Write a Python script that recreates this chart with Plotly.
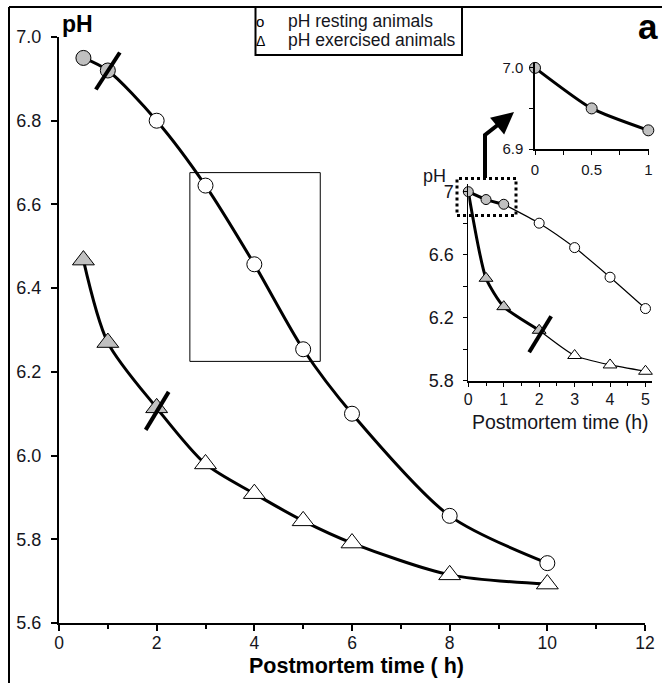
import plotly.graph_objects as go

# ---------------- data ----------------
time_main = [0.5, 1, 2, 3, 4, 5, 6, 8, 10]
ph_rest = [6.95, 6.92, 6.80, 6.645, 6.457, 6.254, 6.10, 5.856, 5.743]
ph_exer = [6.467, 6.27, 6.114, 5.98, 5.909, 5.844, 5.791, 5.715, 5.693]

time_inset = [0, 0.5, 1, 2, 3, 4, 5]
ph_rest_inset = [7.0, 6.95, 6.92, 6.80, 6.645, 6.457, 6.258]
ph_exer_inset = [7.0, 6.45, 6.27, 6.12, 5.96, 5.90, 5.86]

time_zoom = [0, 0.5, 1]
ph_zoom = [7.0, 6.95, 6.923]

main_yticks = [5.6, 5.8, 6.0, 6.2, 6.4, 6.6, 6.8, 7.0]
inset_yticks = [5.8, 6.0, 6.2, 6.4, 6.6, 6.8, 7.0]
inset_yticktext = ["5.8", "", "6.2", "", "6.6", "", "7"]
zoom_yticks = [6.9, 6.95, 7.0]
zoom_yticktext = ["6.9", "", "7.0"]
zoom_xticks = [0, 0.5, 1]
zoom_xticktext = ["0", "0.5", "1"]

legend_labels = ["pH resting animals", "pH exercised animals"]
xtitle_main = "Postmortem time ( h)"
xtitle_inset = "Postmortem time (h)"

# ---------------- style ----------------
W, H = 662, 683
GRAY = "#C0C0C0"
FONT = "Liberation Sans, Arial, sans-serif"
TXT = "#151520"


def px(x):
    return x / W


def py(y):
    return 1 - y / H


rest_fill = [GRAY if t <= 1 else "white" for t in time_main]
exer_fill = [GRAY if t <= 2 else "white" for t in time_main]
rest_fill_inset = [GRAY if t <= 1 else "white" for t in time_inset]
exer_fill_inset = [GRAY if t <= 2 else "white" for t in time_inset]

fig = go.Figure()

# main chart
fig.add_trace(go.Scatter(
    x=time_main, y=ph_rest, mode="lines+markers",
    line=dict(color="black", width=3, shape="spline", smoothing=0.8),
    marker=dict(symbol="circle", size=15, color=rest_fill, line=dict(color="black", width=1)),
    cliponaxis=False, showlegend=False, xaxis="x", yaxis="y"))
fig.add_trace(go.Scatter(
    x=time_main, y=ph_exer, mode="lines+markers",
    line=dict(color="black", width=3, shape="spline", smoothing=0.8),
    marker=dict(symbol="triangle-up", size=19, color=exer_fill, line=dict(color="black", width=1)),
    cliponaxis=False, showlegend=False, xaxis="x", yaxis="y"))

# inset chart
fig.add_trace(go.Scatter(
    x=time_inset[:3], y=ph_rest_inset[:3], mode="lines",
    line=dict(color="black", width=3, shape="spline", smoothing=0.6),
    cliponaxis=False, showlegend=False, xaxis="x2", yaxis="y2"))
fig.add_trace(go.Scatter(
    x=time_inset[2:], y=ph_rest_inset[2:], mode="lines",
    line=dict(color="black", width=1.2, shape="spline", smoothing=0.6),
    cliponaxis=False, showlegend=False, xaxis="x2", yaxis="y2"))
fig.add_trace(go.Scatter(
    x=time_inset[:4], y=ph_exer_inset[:4], mode="lines",
    line=dict(color="black", width=3, shape="spline", smoothing=0.6),
    cliponaxis=False, showlegend=False, xaxis="x2", yaxis="y2"))
fig.add_trace(go.Scatter(
    x=time_inset[3:], y=ph_exer_inset[3:], mode="lines",
    line=dict(color="black", width=1.2, shape="spline", smoothing=0.6),
    cliponaxis=False, showlegend=False, xaxis="x2", yaxis="y2"))
fig.add_trace(go.Scatter(
    x=time_inset[1:], y=ph_exer_inset[1:], mode="markers",
    marker=dict(symbol="triangle-up", size=12, color=exer_fill_inset[1:], line=dict(color="black", width=1)),
    cliponaxis=False, showlegend=False, xaxis="x2", yaxis="y2"))
fig.add_trace(go.Scatter(
    x=time_inset, y=ph_rest_inset, mode="markers",
    marker=dict(symbol="circle", size=10, color=rest_fill_inset, line=dict(color="black", width=1)),
    cliponaxis=False, showlegend=False, xaxis="x2", yaxis="y2"))

# zoomed inset
fig.add_trace(go.Scatter(
    x=time_zoom, y=ph_zoom, mode="lines+markers",
    line=dict(color="black", width=3, shape="spline", smoothing=0.6),
    marker=dict(symbol="circle", size=11, color=GRAY, line=dict(color="black", width=1)),
    cliponaxis=False, showlegend=False, xaxis="x3", yaxis="y3"))

axis_common = dict(showgrid=False, zeroline=False, showline=True, linecolor="black",
                   ticks="outside", tickcolor="black", fixedrange=True, automargin=False)

fig.update_layout(
    width=W, height=H, margin=dict(l=0, r=0, t=0, b=0, pad=0, autoexpand=False),
    paper_bgcolor="white", plot_bgcolor="rgba(0,0,0,0)",
    font=dict(family=FONT, color=TXT),
    xaxis=dict(domain=[px(59), px(645)], range=[0, 12], dtick=2, anchor="y",
               linewidth=2, ticklen=6, tickwidth=2, ticklabelstandoff=-3,
               tickfont=dict(size=17.5, color=TXT),
               minor=dict(dtick=1, ticks="outside", ticklen=4, tickwidth=2, tickcolor="black"),
               **axis_common),
    yaxis=dict(domain=[py(623), py(37)], range=[5.6, 7.0], tickvals=main_yticks, tickformat=".1f",
               anchor="x", linewidth=2, ticklen=6, tickwidth=2, ticklabelstandoff=6,
               tickfont=dict(size=18, color=TXT), **axis_common),
    xaxis2=dict(domain=[px(468.3), px(651.5)], range=[0, 5.17], dtick=1, anchor="y2",
                linewidth=2, ticklen=4, tickwidth=1, ticklabelstandoff=-1,
                tickfont=dict(size=16, color=TXT),
                minor=dict(dtick=0.5, ticks="outside", ticklen=3, tickwidth=1, tickcolor="black"),
                **axis_common),
    yaxis2=dict(domain=[py(380.7), py(183.8)], range=[5.8, 7.05], tickvals=inset_yticks,
                ticktext=inset_yticktext, anchor="x2", linewidth=1, ticklen=4, tickwidth=1,
                ticklabelstandoff=6, tickfont=dict(size=18, color=TXT), **axis_common),
    xaxis3=dict(domain=[px(535), px(649)], range=[0, 1.006], tickvals=zoom_xticks,
                ticktext=zoom_xticktext, anchor="y3", linewidth=2, ticklen=4, tickwidth=1,
                ticklabelstandoff=2, tickfont=dict(size=15, color=TXT, family="Liberation Sans Narrow, " + FONT),
                minor=dict(dtick=0.25, ticks="outside", ticklen=4, tickwidth=1, tickcolor="black"),
                **axis_common),
    yaxis3=dict(domain=[py(149), py(63)], range=[6.9, 7.006], tickvals=zoom_yticks,
                ticktext=zoom_yticktext, anchor="x3", linewidth=1.5, ticklen=4, tickwidth=1,
                ticklabelstandoff=3, tickfont=dict(size=15, color=TXT, family="Liberation Sans Narrow, " + FONT),
                **axis_common),
)

shapes = []
# outer frame (left and top)
shapes.append(dict(type="line", xref="paper", yref="paper", x0=px(9), x1=px(9), y0=-0.05, y1=py(7),
                   line=dict(color="black", width=2)))
shapes.append(dict(type="line", xref="paper", yref="paper", x0=px(9), x1=1.05, y0=py(7), y1=py(7),
                   line=dict(color="black", width=2)))
# legend box
shapes.append(dict(type="rect", xref="paper", yref="paper", x0=px(255.5), x1=px(462), y0=py(55), y1=py(7),
                   line=dict(color="black", width=2), fillcolor="white", layer="below"))
# highlight rectangle on main chart
shapes.append(dict(type="rect", xref="x", yref="y", x0=2.68, x1=5.35, y0=6.225, y1=6.676,
                   line=dict(color="black", width=1)))
# dotted box on inset
shapes.append(dict(type="rect", xref="paper", yref="paper", x0=px(457), x1=px(516), y0=py(215.5), y1=py(178.5),
                   line=dict(color="black", width=3, dash="dot")))
# arrow body
shapes.append(dict(type="path", xref="paper", yref="paper",
                   path=f"M {px(485)},{py(178)} L {px(485)},{py(135)} L {px(506)},{py(118.5)}",
                   line=dict(color="black", width=4)))
# break marks
shapes.append(dict(type="line", xref="x", yref="y", xsizemode="pixel", ysizemode="pixel",
                   xanchor=time_main[1], yanchor=ph_rest[1], x0=-12, x1=12, y0=-19, y1=18,
                   line=dict(color="black", width=4)))
shapes.append(dict(type="line", xref="x", yref="y", xsizemode="pixel", ysizemode="pixel",
                   xanchor=time_main[2], yanchor=ph_exer[2], x0=-11, x1=12, y0=-22, y1=16,
                   line=dict(color="black", width=4)))
shapes.append(dict(type="line", xref="x2", yref="y2", xsizemode="pixel", ysizemode="pixel",
                   xanchor=time_inset[3], yanchor=ph_exer_inset[3], x0=-10, x1=12, y0=-22, y1=14,
                   line=dict(color="black", width=4)))
fig.update_layout(shapes=shapes)

annotations = [
    dict(text="<b>pH</b>", x=px(77), y=py(24), font=dict(size=23, color="black")),
    dict(text="<b>a</b>", x=px(648), y=py(26), font=dict(size=35, color="black")),
    dict(text=f"<b>{xtitle_main}</b>", x=px(356), y=py(666), font=dict(size=21.5, color="black")),
    dict(text=xtitle_inset, x=px(560), y=py(422), font=dict(size=19.5, color=TXT)),
    dict(text="pH", x=px(434), y=py(176), font=dict(size=18, color=TXT)),
    dict(text=legend_labels[0], x=px(286), y=py(21), xanchor="left", font=dict(size=17.5, color=TXT)),
    dict(text=legend_labels[1], x=px(286), y=py(40), xanchor="left", font=dict(size=17.5, color=TXT)),
    dict(text="o", x=px(260), y=py(22), font=dict(size=15, color="black")),
    dict(text="Δ", x=px(260), y=py(41), font=dict(size=14, color="black")),
    dict(text="", x=px(514), y=py(112), ax=-12, ay=10, showarrow=True, arrowhead=2,
         arrowsize=1.1, arrowwidth=4, arrowcolor="black", standoff=0),
]
for a in annotations:
    a.setdefault("xref", "paper")
    a.setdefault("yref", "paper")
    a.setdefault("showarrow", False)
    a.setdefault("xanchor", "center")
    a.setdefault("yanchor", "middle")
fig.update_layout(annotations=annotations)

fig.write_html("out.html", config={"displayModeBar": False},
               post_script="document.body.style.margin='0px';")
